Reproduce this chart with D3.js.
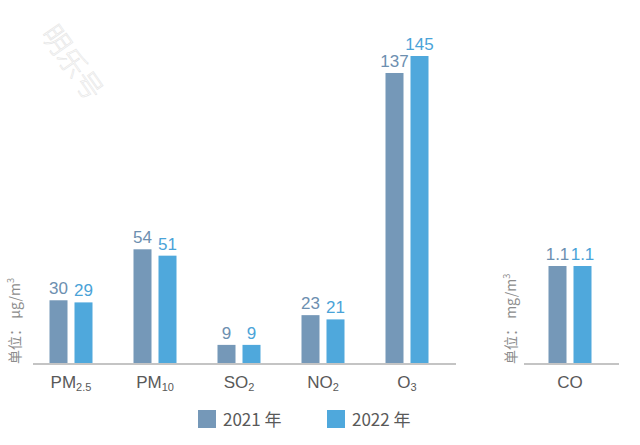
<!DOCTYPE html>
<html><head><meta charset="utf-8">
<script src="https://cdn.jsdelivr.net/npm/d3@7"></script>
<style>body{margin:0;background:#fff;} svg{display:block;}</style>
</head><body>
<svg id="c" width="640" height="445"></svg>
<script>
const categories = [
  {base: "PM", sub: "2.5"},
  {base: "PM", sub: "10"},
  {base: "SO", sub: "2"},
  {base: "NO", sub: "2"},
  {base: "O", sub: "3"}
];
const values2021 = [30, 54, 9, 23, 137];
const values2022 = [29, 51, 9, 21, 145];
const coCategory = [{base: "CO", sub: ""}];
const co2021 = [1.1];
const co2022 = [1.1];
const seriesNames = ["2021 年", "2022 年"];
const colors = ["#7598b8", "#4fa8dc"];
const labelColors = ["#6d8fb0", "#4aa3d8"];

const svg = d3.select("#c");
const font = "'Liberation Sans', Arial, sans-serif";
const baseY = 364, topY = 56;

// watermark
svg.append("text").attr("transform", "translate(40,34) rotate(55)")
  .attr("font-family", "'Noto Sans CJK SC'").attr("font-size", 28).attr("font-weight", 300)
  .attr("fill", "#ffffff").attr("stroke", "#e4e4e4").attr("stroke-width", 0.6)
  .text("明乐号");

function panel(cats, v1, v2, x0, x1, yMax, lineX0, lineX1, unit, unitX) {
  const x = d3.scaleBand().domain(d3.range(cats.length)).range([x0, x1]);
  const y = d3.scaleLinear().domain([0, yMax]).range([baseY, topY]);
  const bw = 18, gap = 7;
  const g = svg.append("g");
  [v1, v2].forEach((vals, s) => {
    const off = s === 0 ? -(gap / 2 + bw) : gap / 2;
    g.selectAll(null).data(vals).enter().append("rect")
      .attr("x", (d, i) => x(i) + x.bandwidth() / 2 + off)
      .attr("y", d => y(d)).attr("width", bw).attr("height", d => baseY - y(d))
      .attr("fill", colors[s]);
    g.selectAll(null).data(vals).enter().append("text")
      .attr("x", (d, i) => x(i) + x.bandwidth() / 2 + off + bw / 2)
      .attr("y", d => y(d) - 6).attr("text-anchor", "middle")
      .attr("font-family", font).attr("font-size", 17)
      .attr("fill", labelColors[s]).text(d => d);
  });
  g.append("line").attr("x1", lineX0).attr("x2", lineX1)
    .attr("y1", baseY).attr("y2", baseY)
    .attr("stroke", "#c4c4c4").attr("stroke-width", 2);
  const t = g.selectAll(null).data(cats).enter().append("text")
    .attr("x", (d, i) => x(i) + x.bandwidth() / 2).attr("y", 388)
    .attr("text-anchor", "middle").attr("font-family", font)
    .attr("font-size", 17).attr("fill", "#595959");
  t.append("tspan").text(d => d.base);
  t.append("tspan").attr("font-size", 11).attr("dy", 3).text(d => d.sub);
  // unit label
  const u = g.append("text").attr("transform", `translate(${unitX},364) rotate(-90)`)
    .attr("font-family", "'Noto Sans CJK SC'").attr("font-size", 14)
    .attr("fill", "#8c8c8c");
  u.append("tspan").text(unit);
  u.append("tspan").attr("font-size", 9).attr("dy", -6).text("3");
}

panel(categories, values2021, values2022, 29, 449, 145, 33, 456, "单位：  μg/m", 20);
panel(coCategory, co2021, co2022, 524, 616, 1.1 * (baseY - topY) / 98, 524, 619, "单位：  mg/m", 516);

// legend
const lg = svg.append("g");
const lx = [198, 327];
seriesNames.forEach((n, i) => {
  lg.append("rect").attr("x", lx[i]).attr("y", 410).attr("width", 18).attr("height", 18).attr("fill", colors[i]);
  lg.append("text").attr("x", lx[i] + 25).attr("y", 426)
    .attr("font-family", "'Noto Sans CJK SC'").attr("font-size", 17)
    .attr("fill", "#595959").text(n);
});
</script>
</body></html>
